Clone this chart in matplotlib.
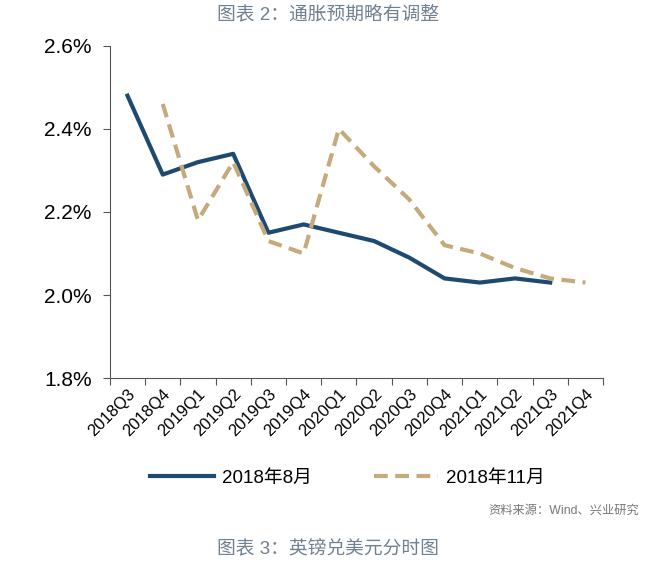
import matplotlib.pyplot as plt
from matplotlib.ticker import FuncFormatter

plt.rcParams['font.family'] = ['Liberation Sans', 'Noto Sans CJK SC']

quarters = ["2018Q3", "2018Q4", "2019Q1", "2019Q2", "2019Q3", "2019Q4",
            "2020Q1", "2020Q2", "2020Q3", "2020Q4", "2021Q1", "2021Q2",
            "2021Q3", "2021Q4"]
aug_2018 = [2.48, 2.29, 2.32, 2.34, 2.15, 2.17, 2.15, 2.13, 2.09, 2.04,
            2.03, 2.04, 2.03]
nov_2018 = [None, 2.46, 2.18, 2.32, 2.13, 2.10, 2.40, 2.31, 2.23, 2.12,
            2.10, 2.065, 2.04, 2.03]
yticks = [1.8, 2.0, 2.2, 2.4, 2.6]

blue = "#1f4a70"
gold = "#c4aa7c"
grey_txt = "#6f8090"

fig = plt.figure(figsize=(6.62, 5.66), dpi=100)
ax = fig.add_axes([0.166, 0.332, 0.745, 0.587])

xs = list(range(len(quarters)))
ax.plot(xs[:len(aug_2018)], aug_2018, color=blue, lw=3, label="2018年8月")
nx = [x for x, v in zip(xs, nov_2018) if v is not None]
nv = [v for v in nov_2018 if v is not None]
ax.plot(nx, nv, color=gold, lw=3, ls=(0, (3.3, 1.8)), label="2018年11月")

ax.set_xlim(-0.5, len(quarters) - 0.5)
ax.set_ylim(1.8, 2.6)
ax.set_yticks(yticks)
ax.yaxis.set_major_formatter(FuncFormatter(lambda v, p: "%.1f%%" % v))
ax.set_xticks([x - 0.5 for x in xs] + [len(quarters) - 0.5])
ax.set_xticklabels([])
ax.set_xticks(xs, minor=True)
ax.set_xticklabels(quarters, minor=True, rotation=45, ha="right",
                   rotation_mode="anchor", fontsize=12)
ax.tick_params(axis="x", which="minor", length=0, pad=6)
ax.tick_params(axis="x", which="major", length=5, color="#555555")
ax.tick_params(axis="y", length=5, color="#555555", labelsize=15, pad=8)
for s in ["top", "right"]:
    ax.spines[s].set_visible(False)
for s in ["left", "bottom"]:
    ax.spines[s].set_color("#555555")

fig.legend(loc="center", bbox_to_anchor=(0.525, 0.155), ncol=2,
           frameon=False, fontsize=13.5, handlelength=3.4, columnspacing=3.3,
           handletextpad=0.45)

fig.text(0.328, 0.975, "图表 2：通胀预期略有调整", ha="left", va="center",
         fontsize=13.5, color=grey_txt)
fig.text(0.965, 0.098, "资料来源：Wind、兴业研究", ha="right", va="center",
         fontsize=8.8, color="#777777")
fig.text(0.328, 0.032, "图表 3：英镑兑美元分时图", ha="left", va="center",
         fontsize=13.5, color=grey_txt)

fig.savefig("out.png", dpi=100)
